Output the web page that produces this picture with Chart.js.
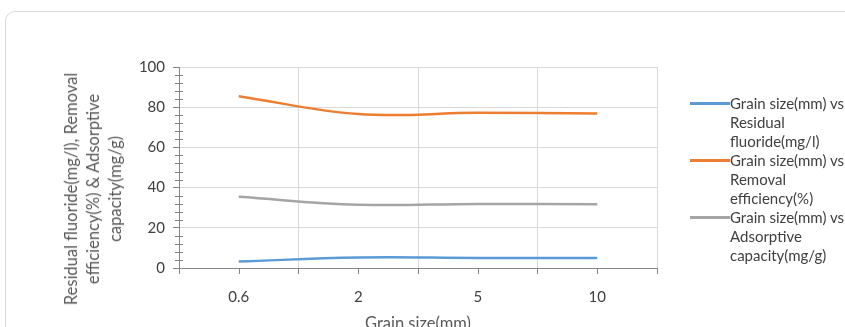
<!DOCTYPE html>
<html>
<head>
<meta charset="utf-8">
<script src="https://cdn.jsdelivr.net/npm/chart.js@4.4.0/dist/chart.umd.min.js"></script>
<style>
  body { margin: 0; background: #fff; width: 845px; height: 327px; overflow: hidden; position: relative; font-family: Lato, sans-serif; }
  #frame { position: absolute; left: 5px; top: 11px; width: 900px; height: 400px; border: 1px solid #d9d9d9; border-radius: 10px; }
  #wrap { position: absolute; left: 0; top: 0; }
  #ytitle { position: absolute; left: 93px; top: 189px; transform: translate(-50%, -50%) rotate(-90deg);
            text-align: center; white-space: nowrap; color: #595959; font-size: 16.5px; line-height: 22px; }
  #legend { position: absolute; left: 690px; top: 94px; color: #404040; font-size: 15px; line-height: 19px; }
  .item { display: flex; align-items: flex-start; }
  .swatch { width: 40px; height: 3px; margin-top: 8px; flex: none; }
  .label { width: 118px; }
</style>
</head>
<body>
<div id="frame"></div>
<div id="wrap"><canvas id="myChart" width="845" height="336"></canvas></div>
<div id="ytitle"></div>
<div id="legend"></div>
<script>
// categories (grain size, mm) and the three measured series
var grainSizes = ['0.6', '2', '5', '10'];
var residualFluoride = [3.2, 5.2, 5.0, 5.0];
var removalEfficiency = [85.5, 76.6, 77.2, 76.9];
var adsorptiveCapacity = [35.4, 31.5, 31.9, 31.7];

var seriesNames = [
  'Grain size(mm) vs Residual fluoride(mg/l)',
  'Grain size(mm) vs Removal efficiency(%)',
  'Grain size(mm) vs Adsorptive capacity(mg/g)'
];
var seriesColors = ['#5b9bd5', '#ed7d31', '#a5a5a5'];

var yMin = 0, yMax = 100, yStep = 20, yMinorStep = 4;
var xTitle = 'Grain size(mm)';
var yTitleLines = ['Residual fluoride(mg/l), Removal', 'efficiency(%) & Adsorptive', 'capacity(mg/g)'];

var axisGrey = '#868686';
var gridGrey = '#d9d9d9';

// y title sits lower than the axis centre in the original, so it is placed by hand
document.getElementById('ytitle').innerHTML = yTitleLines.join('<br>');

// legend with wrapped labels
var legend = document.getElementById('legend');
seriesNames.forEach(function (name, i) {
  var row = document.createElement('div');
  row.className = 'item';
  row.innerHTML = '<div class="swatch" style="background:' + seriesColors[i] + '"></div><div class="label">' + name + '</div>';
  legend.appendChild(row);
});

// minor ticks on the y axis and tick marks at the category centres
var extraTicks = {
  id: 'extraTicks',
  afterDraw: function (chart) {
    var ctx = chart.ctx, x = chart.scales.x, y = chart.scales.y;
    ctx.save();
    ctx.strokeStyle = axisGrey;
    ctx.lineWidth = 1;
    ctx.beginPath();
    for (var v = yMin + yMinorStep; v < yMax; v += yMinorStep) {
      if (v % yStep === 0) continue;
      var py = Math.round(y.getPixelForValue(v)) + 0.5;
      ctx.moveTo(y.right - 4, py);
      ctx.lineTo(y.right + 4, py);
    }
    for (var i = 0; i < grainSizes.length; i++) {
      var px = Math.round(x.getPixelForValue(i)) + 0.5;
      ctx.moveTo(px, x.top);
      ctx.lineTo(px, x.top + 6);
    }
    ctx.stroke();
    ctx.restore();
  }
};

var datasets = [residualFluoride, removalEfficiency, adsorptiveCapacity].map(function (vals, i) {
  return {
    label: seriesNames[i],
    data: vals,
    borderColor: seriesColors[i],
    backgroundColor: seriesColors[i],
    borderWidth: 2.5,
    pointRadius: 0,
    tension: 0.4,
    fill: false
  };
});

var ctx = document.getElementById('myChart');
var myChart = new Chart(ctx, {
  type: 'line',
  data: { labels: grainSizes, datasets: datasets },
  options: {
    responsive: false,
    animation: false,
    layout: { padding: { left: 129, right: 188, top: 67, bottom: 0 } },
    plugins: { legend: { display: false }, tooltip: { enabled: false } },
    scales: {
      x: {
        offset: true,
        grid: { offset: true, color: gridGrey, tickColor: axisGrey, tickLength: 6 },
        border: { color: axisGrey },
        ticks: { color: '#404040', font: { family: 'Lato', size: 15 }, padding: 14, maxRotation: 0 },
        title: { display: true, text: xTitle, color: '#595959', font: { family: 'Lato', size: 16.5 }, padding: { top: 0, bottom: 2 } },
        afterFit: function (s) { s.height = 68; }
      },
      y: {
        min: yMin,
        max: yMax,
        grid: { color: gridGrey, tickColor: axisGrey, tickLength: 6 },
        border: { color: axisGrey },
        ticks: { stepSize: yStep, color: '#404040', font: { family: 'Lato', size: 15 }, padding: 8 },
        afterFit: function (s) { s.width = 50; }
      }
    }
  },
  plugins: [extraTicks]
});
</script>
</body>
</html>
